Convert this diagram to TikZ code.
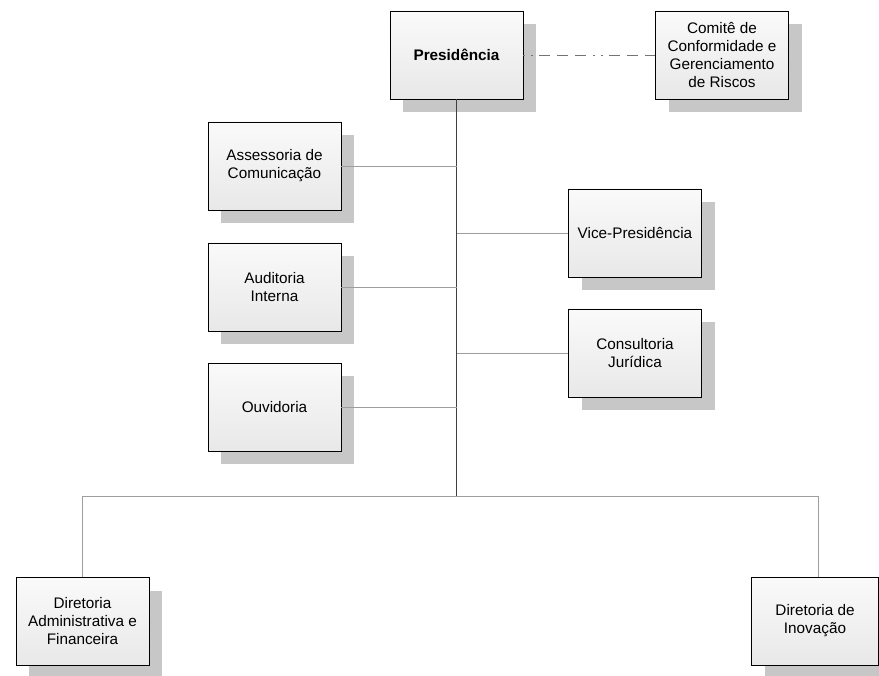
\documentclass[tikz,border=0pt]{standalone}
\usepackage{fontspec}
\setmainfont{Liberation Sans}
\usetikzlibrary{shadows}

\begin{document}
\begin{tikzpicture}[x=1pt, y=1pt,
    orgbox/.style={draw=black, line width=0.9pt, top color=black!2, bottom color=black!9,
        minimum width=133pt, minimum height=88pt, align=center, inner sep=2pt,
        font=\fontsize{15.3}{18}\selectfont,
        general shadow={fill=black!22, shadow xshift=13pt, shadow yshift=-13pt}},
    trunk/.style={draw=black!75, line width=0.6pt},
    branch/.style={draw=black!38, line width=0.6pt}]
    \clip (0,0) rectangle (879,-676);
    \node[orgbox, font=\fontsize{15.3}{18}\selectfont\bfseries] (pres) at (456.5,-55) {Presidência};
    \node[orgbox] (comite) at (722,-55) {Comitê de\\Conformidade e\\Gerenciamento\\de Riscos};
    \node[orgbox] (assess) at (274.5,-166) {Assessoria de\\Comunicação};
    \node[orgbox] (audit) at (274.5,-287) {Auditoria\\Interna};
    \node[orgbox] (ouvid) at (274.5,-407.5) {Ouvidoria};
    \node[orgbox] (vice) at (635,-233) {Vice-Presidência};
    \node[orgbox] (consult) at (635,-353) {Consultoria\\Jurídica};
    \node[orgbox] (dirAdm) at (82.5,-621.5) {Diretoria\\Administrativa e\\Financeira};
    \node[orgbox, minimum width=127pt] (dirInov) at (815,-621) {Diretoria de\\Inovação};
    \coordinate (trunkEnd) at (456.5,-496);
    \coordinate (busR) at (818,-496);
    % ligacoes
    \draw[black!55, line width=0.6pt, dash pattern=on 2pt off 6pt on 2pt off 6pt on 11pt off 7pt on 11pt off 7pt on 11pt off 7pt] (pres.east) -- (comite.west);
    \draw[trunk] (pres.south) -- (trunkEnd);
    \draw[branch] (assess.east) -- (assess.east -| trunkEnd);
    \draw[branch] (audit.east) -- (audit.east -| trunkEnd);
    \draw[branch] (ouvid.east) -- (ouvid.east -| trunkEnd);
    \draw[branch] (vice.west) -- (vice.west -| trunkEnd);
    \draw[branch] (consult.west) -- (consult.west -| trunkEnd);
    \draw[branch] (dirAdm.north) |- (busR) -- (busR |- dirInov.north);
\end{tikzpicture}
\end{document}
